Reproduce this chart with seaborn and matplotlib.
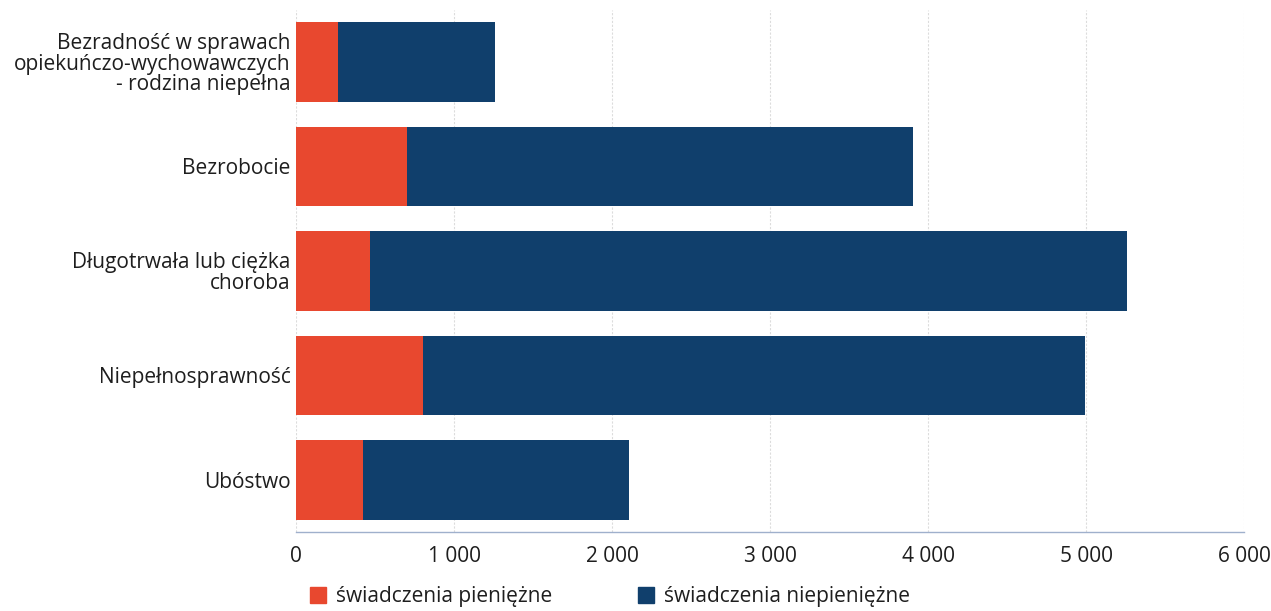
#Stacked horizontal bars: świadczenia by reason

import pandas as pd
import matplotlib.pyplot as plt
from matplotlib.patches import Patch
from matplotlib.ticker import FuncFormatter
import seaborn as sns

categories = [
    "Bezradność w sprawach\nopiekuńczo-wychowawczych\n- rodzina niepełna",
    "Bezrobocie",
    "Długotrwała lub ciężka\nchoroba",
    "Niepełnosprawność",
    "Ubóstwo",
]
cash = [266, 702, 468, 804, 424]
non_cash = [993, 3203, 4791, 4190, 1684]
series_names = ["świadczenia pieniężne", "świadczenia niepieniężne"]

RED = "#e8482f"
NAVY = "#103f6c"

sns.set_theme(style="white")
plt.rcParams['font.family'] = ['Open Sans', 'DejaVu Sans']

data = pd.DataFrame({"category": categories, "cash": cash, "non_cash": non_cash})
data["total"] = data["cash"] + data["non_cash"]

fig = plt.figure(figsize=(12.71, 6.11), dpi=100)
ax = fig.add_axes([0.233, 0.129, 0.746, 0.855])

#stacked: full bar in navy, cash part on top in red
sns.barplot(data=data, x="total", y="category", color=NAVY, width=0.76,
            saturation=1, linewidth=0, ax=ax, orient="h")
sns.barplot(data=data, x="cash", y="category", color=RED, width=0.76,
            saturation=1, linewidth=0, ax=ax, orient="h")

ax.set_xlim(0, 6000)
ax.set_ylim(4.5, -0.5)
ax.set_xticks(range(0, 6001, 1000))
ax.xaxis.set_major_formatter(FuncFormatter(lambda v, p: f"{int(v):,}".replace(",", " ")))
ax.set_xlabel("")
ax.set_ylabel("")
ax.grid(axis="x", color="#dcdcdc", linestyle=(0, (2, 1.5)), linewidth=0.8)
ax.set_axisbelow(True)
for side in ["top", "right", "left"]:
    ax.spines[side].set_visible(False)
ax.spines["bottom"].set_color("#9fb0cc")
ax.spines["bottom"].set_linestyle((0, (2, 1)))
ax.spines["bottom"].set_linewidth(1.0)
ax.tick_params(axis="both", length=0, labelsize=15, colors="#1e1e1e")
ax.tick_params(axis="y", pad=4)
ax.tick_params(axis="x", pad=10)
for lbl in ax.get_yticklabels():
    lbl.set_horizontalalignment("right")
    lbl.set_multialignment("right")
    lbl.set_linespacing(0.95)

handles = [Patch(color=RED), Patch(color=NAVY)]
fig.legend(handles, series_names, loc="lower left", bbox_to_anchor=(0.229, -0.024),
           ncol=2, frameon=False, fontsize=15, handlelength=0.8, handleheight=0.8,
           handletextpad=0.45, columnspacing=4.1, labelcolor="#1e1e1e")

fig.savefig("out.png", dpi=100)
